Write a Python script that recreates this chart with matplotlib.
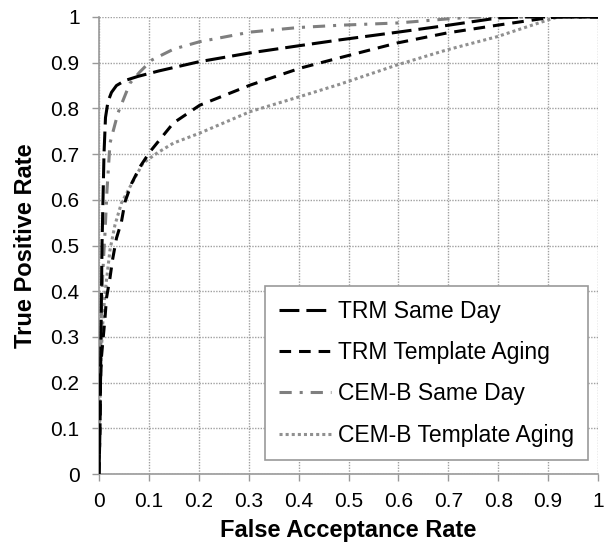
import matplotlib
matplotlib.use('Agg')
import matplotlib.pyplot as plt

plt.rcParams['font.family'] = ['Liberation Sans', 'DejaVu Sans']

# values (FAR, TPR)
trm_same_x = [0, 0.002, 0.003, 0.004, 0.005, 0.006, 0.008, 0.01, 0.013, 0.018, 0.025,
              0.035, 0.052, 0.078, 0.12, 0.2, 0.3, 0.4, 0.483, 0.6, 0.7, 0.8, 0.85, 1]
trm_same_y = [0, 0.1, 0.2, 0.3, 0.4, 0.5, 0.6, 0.7, 0.78, 0.815, 0.835,
              0.85, 0.861, 0.87, 0.882, 0.902, 0.921, 0.937, 0.95, 0.967, 0.982, 0.998, 1.0, 1]

trm_aging_x = [0, 0.002, 0.003, 0.005, 0.012, 0.015, 0.022, 0.027, 0.035, 0.045, 0.052,
               0.065, 0.082, 0.102, 0.149, 0.202, 0.303, 0.403, 0.483, 0.597, 0.697,
               0.798, 0.898, 0.92, 1]
trm_aging_y = [0, 0.1, 0.2, 0.257, 0.341, 0.385, 0.429, 0.468, 0.516, 0.552, 0.595,
               0.635, 0.672, 0.705, 0.768, 0.807, 0.851, 0.888, 0.911, 0.943, 0.965,
               0.982, 0.998, 1.0, 1]

cem_same_x = [0, 0.001, 0.002, 0.004, 0.006, 0.009, 0.012, 0.016, 0.022, 0.038, 0.062,
              0.082, 0.106, 0.15, 0.202, 0.303, 0.4, 0.483, 0.6, 0.7, 0.75, 1]
cem_same_y = [0, 0.1, 0.2, 0.3, 0.4, 0.47, 0.527, 0.62, 0.724, 0.79, 0.855,
              0.88, 0.906, 0.93, 0.946, 0.967, 0.977, 0.982, 0.987, 0.996, 1.0, 1]

cem_aging_x = [0, 0.001, 0.002, 0.004, 0.007, 0.012, 0.022, 0.032, 0.045, 0.062, 0.088,
               0.116, 0.149, 0.202, 0.303, 0.403, 0.483, 0.597, 0.697, 0.798, 0.898,
               0.92, 1]
cem_aging_y = [0.02, 0.1, 0.16, 0.25, 0.322, 0.396, 0.49, 0.545, 0.593, 0.628, 0.68,
               0.702, 0.724, 0.746, 0.793, 0.826, 0.853, 0.895, 0.928, 0.957, 0.993,
               1.0, 1]

ticks = [0, 0.1, 0.2, 0.3, 0.4, 0.5, 0.6, 0.7, 0.8, 0.9, 1]
tick_labels = ['0', '0.1', '0.2', '0.3', '0.4', '0.5', '0.6', '0.7', '0.8', '0.9', '1']

fig = plt.figure(figsize=(6.04, 5.45), dpi=100)
ax = fig.add_axes([99 / 604, 1 - 474 / 545, 499 / 604, 457 / 545])

lw = 2.2
ax.plot(trm_same_x, trm_same_y, color='black', lw=lw, dashes=(6.5, 2.3),
        label='TRM Same Day', zorder=4)
ax.plot(trm_aging_x, trm_aging_y, color='black', lw=lw, dashes=(3.8, 2.6),
        label='TRM Template Aging', zorder=4)
ax.plot(cem_same_x, cem_same_y, color='#7f7f7f', lw=lw, dashes=(4, 2.6, 1, 2.6),
        label='CEM-B Same Day', zorder=3)
ax.plot(cem_aging_x, cem_aging_y, color='#909090', lw=lw, dashes=(1, 1),
        label='CEM-B Template Aging', zorder=3)

ax.set_xlim(0, 1)
ax.set_ylim(0, 1)
ax.set_xticks(ticks)
ax.set_xticklabels(tick_labels)
ax.set_yticks(ticks)
ax.set_yticklabels(tick_labels)

ax.grid(True, color='#a0a0a0', linestyle=(0, (1, 1)), linewidth=1)
for s in ['top', 'right']:
    ax.spines[s].set_visible(False)
for s in ['left', 'bottom']:
    ax.spines[s].set_color('#999999')
    ax.spines[s].set_linewidth(1.2)

ax.tick_params(axis='both', direction='out', length=5, width=1, color='#999999',
               labelsize=15, labelcolor='black')
ax.tick_params(axis='x', pad=8)
ax.tick_params(axis='y', pad=9)

ax.set_xlabel('False Acceptance Rate', fontsize=17, fontweight='bold', labelpad=6)
ax.set_ylabel('True Positive Rate', fontsize=17, fontweight='bold', labelpad=10)

leg = ax.legend(loc='lower right', bbox_to_anchor=(0.98, 0.03), fontsize=16.5,
                frameon=True, fancybox=False, edgecolor='#999999', framealpha=1,
                handlelength=2.3, handletextpad=0.3, labelspacing=0.8,
                borderpad=0.6, borderaxespad=0)
leg.get_frame().set_linewidth(1.2)

fig.savefig('out.png', dpi=100)
